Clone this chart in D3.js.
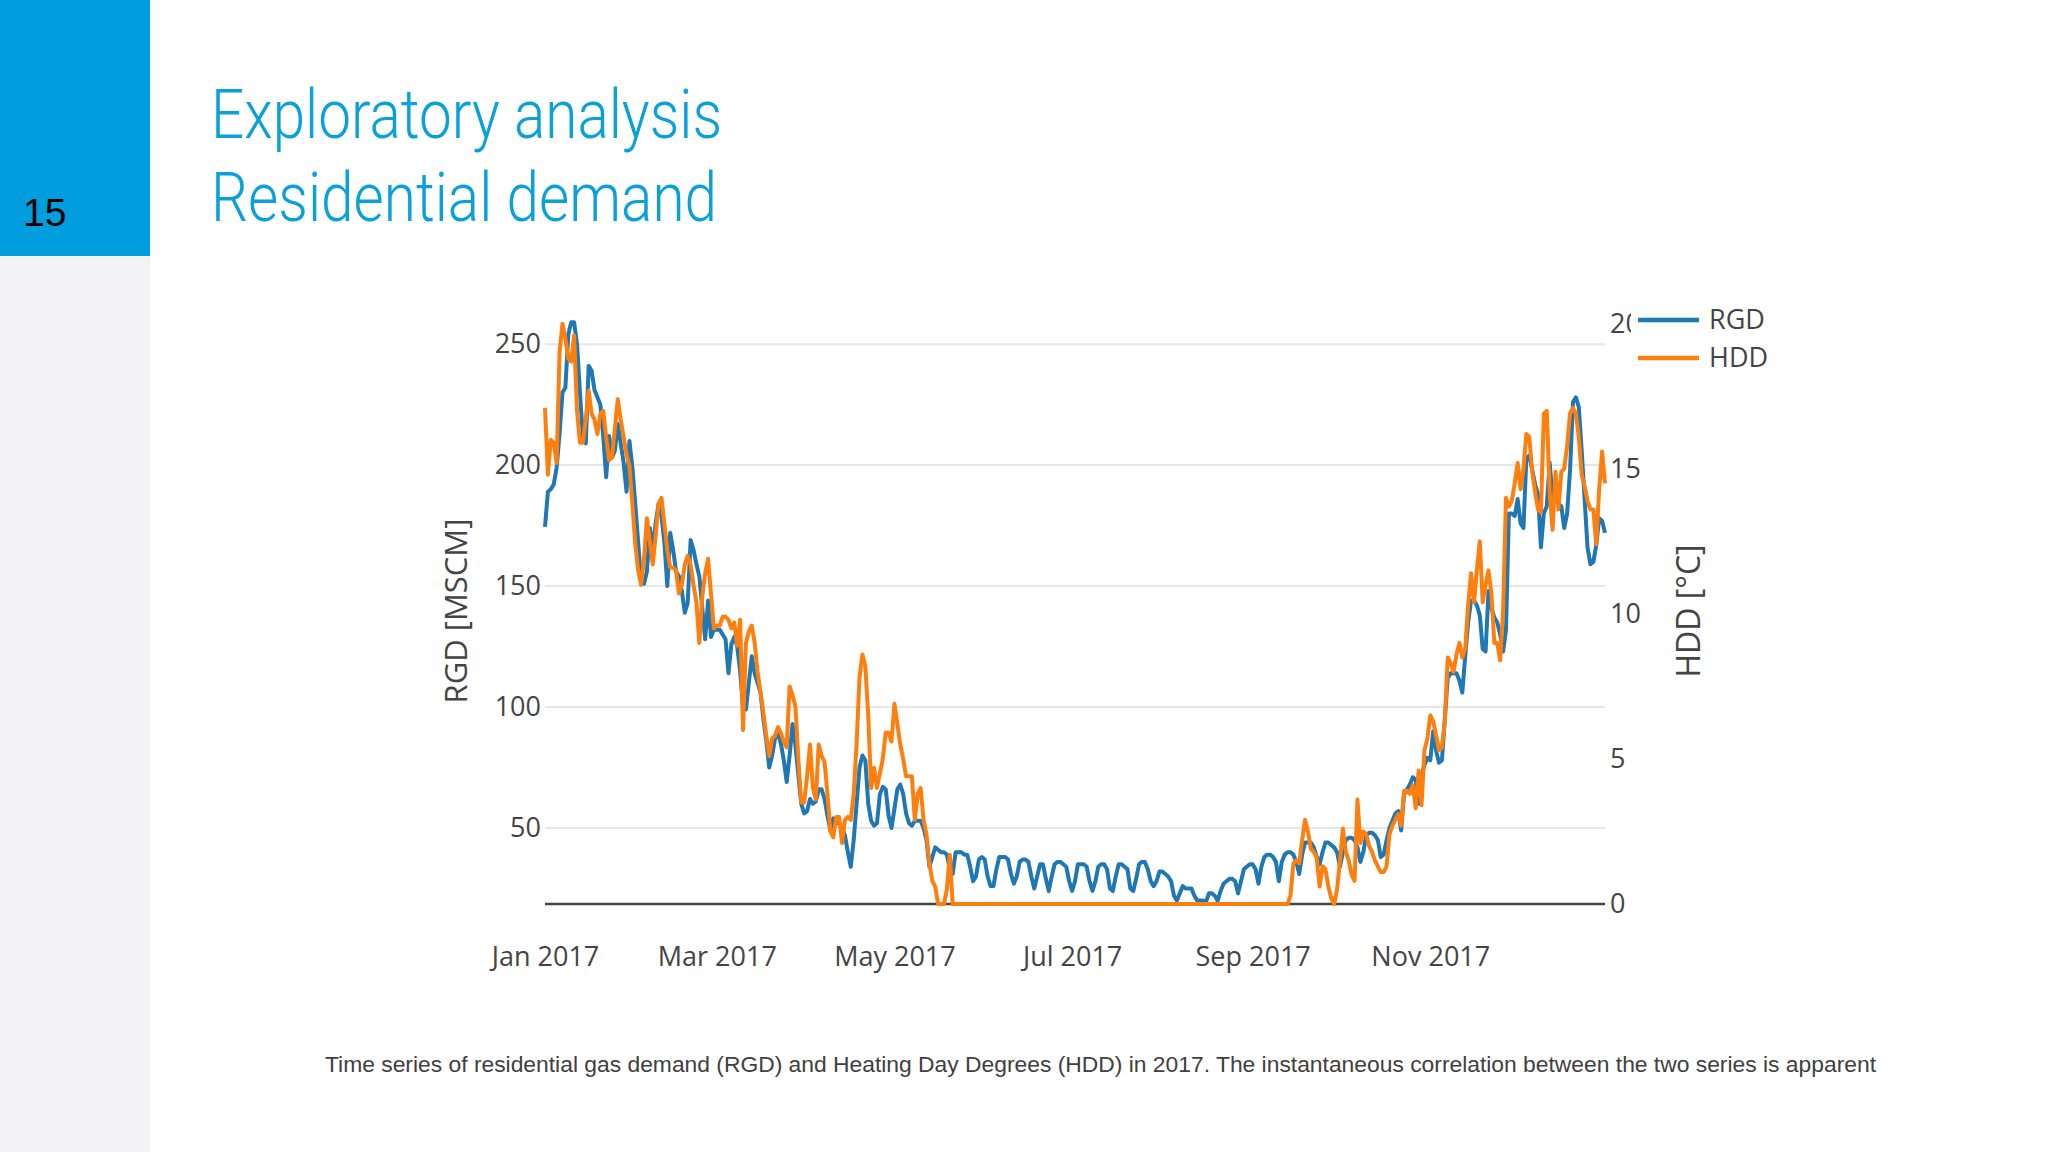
<!DOCTYPE html>
<html>
<head>
<meta charset="utf-8">
<script src="https://cdn.jsdelivr.net/npm/d3@7"></script>
<style>
  body { margin: 0; background: #fff; }
  svg { display: block; }
</style>
</head>
<body>
<svg id="slide" width="2048" height="1152"></svg>
<script>
// Daily residential gas demand, MSCM (1 Jan 2017 .. 31 Dec 2017), one row per week
const rgd = [
  174.5, 189, 190, 192, 199, 213, 230,
  232, 254, 259, 259, 250, 230, 212,
  209, 241, 239, 231, 228, 225, 212,
  195, 212, 203, 206, 217, 209, 201,
  189, 210, 199, 184, 168, 152, 151,
  156, 174, 165, 176, 184, 179, 168,
  150, 172, 165, 156, 154, 148, 139,
  143, 169, 165, 159, 154, 141, 128,
  144, 129, 132, 132, 132, 130, 128,
  114, 126, 129, 125, 115, 100, 99,
  110, 121, 114, 110, 106, 95, 86,
  75, 80, 87, 89, 85, 78, 69,
  80, 93, 84, 72, 60, 56, 57,
  62, 60, 61, 66, 66, 62, 55,
  49, 54, 52, 52, 50, 47, 40,
  34, 45, 60, 75, 80, 78, 60,
  53, 51, 52, 64, 67, 66, 55,
  50, 58, 66, 68, 64, 56, 52,
  51, 53, 53, 53, 50, 45, 34,
  38, 42, 41, 40, 40, 39, 33,
  31, 40, 40, 40, 39, 39, 34,
  28, 30, 37, 38, 37, 30, 26,
  26, 33, 38, 38, 38, 37, 31,
  27, 30, 36, 37, 37, 36, 30,
  25, 30, 35, 35, 29, 24, 30,
  35, 36, 36, 35, 34, 28, 24,
  28, 35, 35, 35, 34, 28, 24,
  28, 34, 35, 35, 33, 25, 24,
  30, 35, 35, 34, 33, 25, 24,
  29, 35, 36, 36, 33, 28, 26,
  28, 32, 32, 31, 30, 28, 22,
  20, 23, 26, 25, 25, 25, 22,
  20, 20, 20, 19.5, 23, 23, 22,
  20, 24, 27, 28, 29, 29, 28,
  23, 28, 33, 34, 35, 35, 33,
  27, 34, 38, 39, 39, 38, 36,
  28, 36, 39, 40, 40, 39, 36,
  31, 39, 44, 44, 44, 42, 38,
  35, 40, 44, 44, 43, 42, 40,
  34, 40, 45, 46, 46, 45, 42,
  36, 40, 47, 48, 48, 47, 45,
  38, 39, 45, 50, 53, 56, 57,
  49, 64, 66, 68, 71, 70, 60,
  72, 76, 79, 78, 90, 82, 77,
  78, 95, 112, 114, 114, 114, 111,
  106, 121, 135, 144, 144, 142, 138,
  124, 123, 148, 141, 137, 135, 130,
  123, 132, 180, 180, 179, 186, 176,
  174, 203, 204, 198, 192, 188, 166,
  180, 183, 201, 186, 190, 184, 183,
  174, 180, 198, 226, 228, 224, 206,
  186, 166, 159, 160, 167, 178, 177,
  172
];

// Daily heating degree days, °C, same days
const hdd = [
  17.1, 14.8, 16.0, 15.9, 15.2, 19.0, 20.0,
  19.5, 18.8, 18.7, 19.6, 17.0, 15.9, 15.9,
  16.7, 17.7, 16.9, 16.7, 16.2, 16.9, 17.0,
  16.1, 15.3, 15.4, 16.4, 17.4, 16.7, 16.1,
  15.5, 15.1, 13.8, 12.4, 11.5, 11.0, 11.9,
  13.3, 12.5, 11.7, 12.7, 13.8, 14.0, 13.1,
  12.2, 11.6, 11.6, 11.5, 10.7, 11.0, 11.7,
  12.0, 11.7, 11.0, 10.4, 9.0, 10.6, 11.4,
  11.9, 10.7, 9.5, 9.6, 9.6, 9.9, 9.9,
  9.8, 9.5, 9.7, 8.9, 9.8, 6.0, 9.0,
  9.4, 9.6, 9.0, 8.0, 7.3, 6.6, 5.8,
  5.1, 5.7, 5.8, 6.1, 5.9, 5.6, 5.4,
  7.5, 7.2, 6.8, 5.0, 3.5, 3.5, 4.4,
  5.5, 4.0, 3.6, 5.5, 5.1, 4.9, 3.8,
  2.5, 2.3, 3.0, 3.0, 2.1, 2.9, 3.0,
  2.9, 3.8, 5.5, 7.8, 8.6, 8.2, 6.5,
  4.0, 4.7, 4.0, 4.5, 5.0, 5.9, 5.9,
  5.6, 6.9, 6.2, 5.5, 5.0, 4.4, 4.4,
  4.4, 2.9, 3.8, 4.0, 2.9, 2.4, 1.4,
  0.8, 0.6, 0, 0, 0, 0.5, 1.7,
  0, 0, 0, 0, 0, 0, 0,
  0, 0, 0, 0, 0, 0, 0,
  0, 0, 0, 0, 0, 0, 0,
  0, 0, 0, 0, 0, 0, 0,
  0, 0, 0, 0, 0, 0, 0,
  0, 0, 0, 0, 0, 0, 0,
  0, 0, 0, 0, 0, 0, 0,
  0, 0, 0, 0, 0, 0, 0,
  0, 0, 0, 0, 0, 0, 0,
  0, 0, 0, 0, 0, 0, 0,
  0, 0, 0, 0, 0, 0, 0,
  0, 0, 0, 0, 0, 0, 0,
  0, 0, 0, 0, 0, 0, 0,
  0, 0, 0, 0, 0, 0, 0,
  0, 0, 0, 0, 0, 0, 0,
  0, 0, 0, 0, 0, 0, 0,
  0, 0, 0, 0, 0.3, 1.4, 1.5,
  1.4, 2.2, 2.9, 2.5, 1.9, 1.8, 1.6,
  0.6, 1.3, 1.2, 0.6, 0.2, 0, 0.5,
  1.5, 2.6, 1.8, 1.5, 1.0, 0.8, 3.6,
  2.1, 2.5, 2.4, 2.0, 1.8, 1.5, 1.3,
  1.1, 1.1, 1.3, 2.4, 2.7, 2.9, 3.1,
  2.7, 3.9, 3.9, 3.8, 4.1, 3.3, 4.6,
  3.4, 5.3, 5.7, 6.5, 6.3, 5.8, 5.3,
  5.4, 6.3, 8.5, 8.3, 8.0, 8.6, 9.0,
  8.5, 8.8, 10.3, 11.4, 10.4, 11.5, 12.5,
  10.4, 11.0, 11.5, 10.7, 9.0, 9.0, 8.4,
  10.1, 14.0, 13.7, 13.9, 14.5, 15.2, 14.3,
  15.0, 16.2, 16.1, 14.9, 14.2, 13.6, 13.5,
  16.9, 17.0, 14.2, 12.9, 14.9, 13.6, 14.9,
  15.0, 15.8, 16.9, 17.1, 16.9, 16.1, 14.8,
  14.4, 13.9, 13.6, 13.6, 12.4, 14.3, 15.6,
  14.5
];

const firstDay = new Date(2017, 0, 1);
const lastDay = new Date(2017, 11, 31);
const monthTicks = [new Date(2017, 0, 1), new Date(2017, 2, 1), new Date(2017, 4, 1),
                    new Date(2017, 6, 1), new Date(2017, 8, 1), new Date(2017, 10, 1)];
const rgdTicks = [50, 100, 150, 200, 250];
const hddTicks = [0, 5, 10, 15, 20];
const seriesNames = ['RGD', 'HDD'];
const seriesColors = ['#1f77b4', '#ff7f0e'];

const svg = d3.select('#slide');
const axisFont = '"Open Sans", "DejaVu Sans", sans-serif';

// Slide frame
svg.append('rect').attr('x', 0).attr('y', 0).attr('width', 2048).attr('height', 1152).attr('fill', '#fff');
svg.append('rect').attr('x', 0).attr('y', 256).attr('width', 150).attr('height', 896).attr('fill', '#f3f3f5');
svg.append('rect').attr('x', 0).attr('y', 0).attr('width', 150).attr('height', 256).attr('fill', '#009ddf');

svg.append('text')
  .attr('x', 23).attr('y', 226)
  .style('font-family', '"Liberation Sans", Arial, sans-serif')
  .style('font-size', '39px')
  .attr('fill', '#000')
  .text('15');

// Title
const titleLines = ['Exploratory analysis', 'Residential demand'];
const titleWidths = [511, 506];
svg.selectAll('.title')
  .data(titleLines)
  .enter()
  .append('text')
  .attr('class', 'title')
  .attr('x', 211)
  .attr('y', (d, i) => 138 + i * 83)
  .attr('textLength', (d, i) => titleWidths[i])
  .attr('lengthAdjust', 'spacingAndGlyphs')
  .style('font-family', 'Roboto, "Open Sans", sans-serif')
  .style('font-weight', 300)
  .style('font-size', '68px')
  .attr('fill', '#0aa0dc')
  .text(d => d);

// Chart
const plot = { left: 545, right: 1605, top: 318, bottom: 904 };
const days = rgd.map((v, i) => d3.timeDay.offset(firstDay, i));

const x = d3.scaleTime()
  .domain([firstDay, lastDay])
  .range([plot.left, plot.right]);

const yLeft = d3.scaleLinear()
  .domain([18.6, 260.8])
  .range([plot.bottom, plot.top]);

const yRight = d3.scaleLinear()
  .domain([0, 20.2])
  .range([plot.bottom, plot.top]);

// Gridlines (left axis)
svg.append('g')
  .selectAll('line')
  .data(rgdTicks)
  .enter()
  .append('line')
  .attr('x1', plot.left).attr('x2', plot.right)
  .attr('y1', d => yLeft(d)).attr('y2', d => yLeft(d))
  .attr('stroke', '#e6e6e6')
  .attr('stroke-width', 2);

// Left axis labels
const leftAxis = svg.append('g')
  .attr('transform', `translate(${plot.left - 4},0)`)
  .call(d3.axisLeft(yLeft).tickValues(rgdTicks).tickSize(0).tickPadding(0));
leftAxis.select('.domain').remove();
leftAxis.selectAll('text')
  .style('font-family', axisFont)
  .style('font-size', '27px')
  .attr('fill', '#444');

// Right axis labels
const rightAxis = svg.append('g')
  .attr('transform', `translate(${plot.right + 5},0)`)
  .call(d3.axisRight(yRight).tickValues(hddTicks).tickSize(0).tickPadding(0));
rightAxis.select('.domain').remove();
rightAxis.selectAll('text')
  .style('font-family', axisFont)
  .style('font-size', '27px')
  .attr('fill', '#444');

// Bottom axis labels
const bottomAxis = svg.append('g')
  .attr('transform', `translate(0,${plot.bottom + 43})`)
  .call(d3.axisBottom(x).tickValues(monthTicks).tickFormat(d3.timeFormat('%b %Y')).tickSize(0).tickPadding(0));
bottomAxis.select('.domain').remove();
bottomAxis.selectAll('text')
  .style('font-family', axisFont)
  .style('font-size', '27px')
  .attr('fill', '#444');

// Zero line of HDD axis
svg.append('line')
  .attr('x1', plot.left).attr('x2', plot.right)
  .attr('y1', yRight(0)).attr('y2', yRight(0))
  .attr('stroke', '#444')
  .attr('stroke-width', 2.5);

// Axis titles
svg.append('text')
  .attr('transform', `translate(467,${(plot.top + plot.bottom) / 2}) rotate(-90)`)
  .attr('text-anchor', 'middle')
  .style('font-family', axisFont)
  .style('font-size', '31px')
  .attr('fill', '#444')
  .text('RGD [MSCM]');

svg.append('text')
  .attr('transform', `translate(1700,${(plot.top + plot.bottom) / 2}) rotate(-90)`)
  .attr('text-anchor', 'middle')
  .style('font-family', axisFont)
  .style('font-size', '32px')
  .attr('fill', '#444')
  .text('HDD [°C]');

// Lines
const lineLeft = d3.line()
  .x((d, i) => x(days[i]))
  .y(d => yLeft(d));

const lineRight = d3.line()
  .x((d, i) => x(days[i]))
  .y(d => yRight(d));

svg.append('path')
  .datum(rgd)
  .attr('fill', 'none')
  .attr('stroke', seriesColors[0])
  .attr('stroke-width', 4)
  .attr('stroke-linejoin', 'round')
  .attr('d', lineLeft);

svg.append('path')
  .datum(hdd)
  .attr('fill', 'none')
  .attr('stroke', seriesColors[1])
  .attr('stroke-width', 4)
  .attr('stroke-linejoin', 'round')
  .attr('d', lineRight);

// Legend (its background hides part of the top HDD tick label, as in the source)
svg.append('rect')
  .attr('x', 1631).attr('y', 300)
  .attr('width', 170).attr('height', 78)
  .attr('fill', '#fff');

const legend = svg.selectAll('.legend')
  .data(seriesNames)
  .enter()
  .append('g')
  .attr('class', 'legend')
  .attr('transform', (d, i) => `translate(1638,${320 + i * 38})`);

legend.append('line')
  .attr('x1', 0).attr('x2', 61)
  .attr('stroke', (d, i) => seriesColors[i])
  .attr('stroke-width', 4.5);

legend.append('text')
  .attr('x', 71)
  .attr('dy', '0.35em')
  .style('font-family', axisFont)
  .style('font-size', '27px')
  .attr('fill', '#444')
  .text(d => d);

// Caption
svg.append('text')
  .attr('x', 325).attr('y', 1072)
  .attr('textLength', 1551)
  .attr('lengthAdjust', 'spacingAndGlyphs')
  .style('font-family', '"Liberation Sans", Arial, sans-serif')
  .style('font-size', '22px')
  .attr('fill', '#404040')
  .text('Time series of residential gas demand (RGD) and Heating Day Degrees (HDD) in 2017. The instantaneous correlation between the two series is apparent');
</script>
</body>
</html>
